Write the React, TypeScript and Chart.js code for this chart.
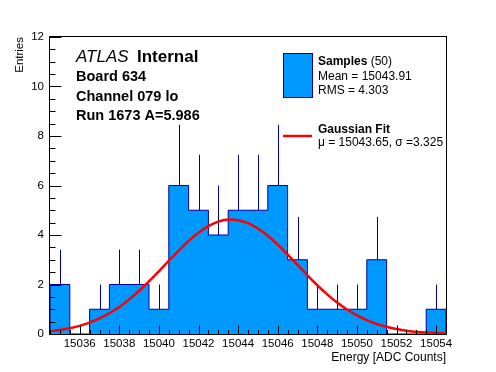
import React, { useEffect, useRef } from "react";
import { Chart, registerables } from "chart.js";

Chart.register(...registerables);

// ---- data ----
const binCenters = [15035, 15036, 15037, 15038, 15039, 15040, 15041, 15042, 15043, 15044, 15045, 15046, 15047, 15048, 15049, 15050, 15051, 15052, 15053, 15054];
const binCounts = [2, 0, 1, 2, 2, 1, 6, 5, 4, 5, 5, 6, 3, 1, 1, 1, 3, 0, 0, 1];
const binErrors = [1.41, 0, 1, 1.41, 1.41, 1, 2.45, 2.24, 2, 2.24, 2.24, 2.45, 1.73, 1, 1, 1, 1.73, 0, 0, 1];
const binWidth = 1;

const fitX = [15034.5, 15035, 15035.5, 15036, 15036.5, 15037, 15037.5, 15038, 15038.5, 15039, 15039.5, 15040, 15040.5, 15041, 15041.5, 15042, 15042.5, 15043, 15043.5, 15044, 15044.5, 15045, 15045.5, 15046, 15046.5, 15047, 15047.5, 15048, 15048.5, 15049, 15049.5, 15050, 15050.5, 15051, 15051.5, 15052, 15052.5, 15053, 15053.5, 15054, 15054.5];
const fitY = [0.11, 0.16, 0.23, 0.33, 0.46, 0.63, 0.84, 1.09, 1.4, 1.74, 2.13, 2.53, 2.96, 3.37, 3.76, 4.09, 4.36, 4.54, 4.63, 4.6, 4.48, 4.26, 3.97, 3.61, 3.21, 2.79, 2.37, 1.97, 1.6, 1.27, 0.99, 0.75, 0.56, 0.4, 0.29, 0.2, 0.13, 0.09, 0.06, 0.04, 0.02];

const xTickValues = [15036, 15038, 15040, 15042, 15044, 15046, 15048, 15050, 15052, 15054];
const yTickValues = [0, 2, 4, 6, 8, 10, 12];
const xRange = [15034.5, 15054.5];
const yRange = [0, 12];
const xMinorStep = 0.5;
const yMinorStep = 0.5;

const xTitle = "Energy [ADC Counts]";
const yTitle = "Entries";
const atlasText = "ATLAS";
const internalText = "Internal";
const infoLines = ["Board 634", "Channel 079 lo", "Run 1673 A=5.986"];
const legendSamples = "Samples";
const legendSamplesCount = " (50)";
const legendSampleStats = ["Mean = 15043.91", "RMS = 4.303"];
const legendFit = "Gaussian Fit";
const legendFitStats = "\u03bc = 15043.65, \u03c3 =3.325";

const FONT = '"Liberation Sans", Arial, Helvetica, sans-serif';
const FILL = "#0099ff";
const LINE = "#000099";
const RED = "#ff0000";

export default function App() {
  const ref = useRef<HTMLCanvasElement>(null);

  useEffect(() => {
    const canvas = ref.current!;
    const histPoints: { x: number; y: number }[] = [];
    histPoints.push({ x: binCenters[0] - binWidth / 2, y: 0 });
    binCenters.forEach((c, i) => histPoints.push({ x: c - binWidth / 2, y: binCounts[i] }));
    const last = binCenters.length - 1;
    histPoints.push({ x: binCenters[last] + binWidth / 2, y: binCounts[last] });
    histPoints.push({ x: binCenters[last] + binWidth / 2, y: 0 });

    const fitPoints = fitX.map((x, i) => ({ x, y: fitY[i] }));

    const decor = {
      id: "decor",
      beforeDraw(chart: any) {
        const ctx = chart.ctx;
        ctx.save();
        ctx.fillStyle = "#fff";
        ctx.fillRect(0, 0, chart.width, chart.height);
        ctx.restore();
      },
      afterDatasetDraw(chart: any, args: any) {
        if (args.index !== 0) return;
        const ctx = chart.ctx;
        const xs = chart.scales.x;
        const ys = chart.scales.y;
        ctx.save();
        ctx.strokeStyle = LINE;
        ctx.lineWidth = 1;
        binCenters.forEach((c, i) => {
          if (binErrors[i] <= 0) return;
          const x = Math.round(xs.getPixelForValue(c)) + 0.5;
          const y1 = ys.getPixelForValue(binCounts[i]);
          const y2 = ys.getPixelForValue(binCounts[i] + binErrors[i]);
          ctx.beginPath();
          ctx.moveTo(x, y1);
          ctx.lineTo(x, y2);
          ctx.stroke();
        });
        ctx.restore();
      },
      afterDraw(chart: any) {
        const ctx = chart.ctx;
        const a = chart.chartArea;
        const xs = chart.scales.x;
        const ys = chart.scales.y;
        const L = Math.round(a.left) - 0.5;
        const R = Math.round(a.right) + 0.5;
        const T = Math.round(a.top) - 0.5;
        const B = Math.round(a.bottom) + 0.5;
        ctx.save();
        ctx.strokeStyle = "#000";
        ctx.lineWidth = 1;
        ctx.strokeRect(L, T, R - L, B - T);
        // ticks
        ctx.beginPath();
        for (let v = xRange[0]; v <= xRange[1] + 1e-9; v += xMinorStep) {
          const major = xTickValues.includes(v);
          const x = Math.round(xs.getPixelForValue(v)) + 0.5;
          ctx.moveTo(x, B);
          ctx.lineTo(x, B - (major ? 9 : 4.5));
        }
        for (let v = yRange[0]; v <= yRange[1] + 1e-9; v += yMinorStep) {
          const major = yTickValues.includes(v);
          const y = Math.round(ys.getPixelForValue(v)) + 0.5;
          ctx.moveTo(L, y);
          ctx.lineTo(L + (major ? 12 : 6), y);
        }
        ctx.stroke();

        ctx.fillStyle = "#000";
        ctx.textBaseline = "alphabetic";
        // axis titles
        ctx.font = `12px ${FONT}`;
        ctx.textAlign = "right";
        ctx.fillText(xTitle, R - 0.5, 360.5);
        ctx.save();
        ctx.translate(23, T + 0.5);
        ctx.rotate(-Math.PI / 2);
        ctx.font = `11.5px ${FONT}`;
        ctx.textAlign = "right";
        ctx.fillText(yTitle, 0, 0);
        ctx.restore();

        // ATLAS label
        ctx.textAlign = "left";
        ctx.font = `italic 17px ${FONT}`;
        ctx.fillText(atlasText, 76, 62);
        ctx.font = `bold 17px ${FONT}`;
        ctx.fillText(internalText, 137, 62);
        ctx.font = `bold 14.5px ${FONT}`;
        const infoY = [81, 100.5, 120];
        infoLines.forEach((t, i) => ctx.fillText(t, 76, infoY[i]));

        // legend
        ctx.fillStyle = FILL;
        ctx.fillRect(283, 53, 29, 44);
        ctx.strokeStyle = LINE;
        ctx.strokeRect(283.5, 53.5, 29, 44);
        ctx.fillStyle = "#000";
        ctx.font = `bold 12px ${FONT}`;
        ctx.fillText(legendSamples, 318, 65);
        const w = ctx.measureText(legendSamples).width;
        ctx.font = `12px ${FONT}`;
        ctx.fillText(legendSamplesCount, 318 + w, 65);
        ctx.fillText(legendSampleStats[0], 318, 80);
        ctx.fillText(legendSampleStats[1], 318, 93.5);
        ctx.strokeStyle = RED;
        ctx.lineWidth = 2.5;
        ctx.beginPath();
        ctx.moveTo(283, 136);
        ctx.lineTo(312, 136);
        ctx.stroke();
        ctx.font = `bold 12px ${FONT}`;
        ctx.fillText(legendFit, 318, 133);
        ctx.font = `12px ${FONT}`;
        ctx.fillText(legendFitStats, 318, 146);
        ctx.restore();
      },
    };

    const chart = new Chart(canvas, {
      type: "line",
      data: {
        datasets: [
          {
            data: histPoints,
            stepped: "before",
            borderColor: LINE,
            borderWidth: 1,
            backgroundColor: FILL,
            fill: "origin",
            pointRadius: 0,
            order: 2,
          } as any,
          {
            data: fitPoints,
            borderColor: RED,
            borderWidth: 2.5,
            pointRadius: 0,
            fill: false,
            cubicInterpolationMode: "monotone",
            order: 1,
          } as any,
        ],
      },
      options: {
        responsive: false,
        animation: false,
        events: [],
        layout: { padding: { left: 0, right: 50, top: 37, bottom: 0 } },
        plugins: { legend: { display: false }, tooltip: { enabled: false }, title: { display: false } },
        scales: {
          x: {
            type: "linear",
            min: xRange[0],
            max: xRange[1],
            afterBuildTicks: (s: any) => {
              s.ticks = xTickValues.map((v) => ({ value: v }));
            },
            afterFit: (s: any) => {
              s.height = 38;
            },
            grid: { display: false, drawTicks: false },
            border: { display: false },
            ticks: {
              autoSkip: false,
              maxRotation: 0,
              padding: 3,
              color: "#000",
              font: { family: FONT, size: 11.5 },
              callback: (v: any) => String(v),
            },
          },
          y: {
            type: "linear",
            min: yRange[0],
            max: yRange[1],
            afterBuildTicks: (s: any) => {
              s.ticks = yTickValues.map((v) => ({ value: v }));
            },
            afterFit: (s: any) => {
              s.width = 50;
            },
            grid: { display: false, drawTicks: false },
            border: { display: false },
            ticks: {
              autoSkip: false,
              padding: 6,
              color: "#000",
              font: { family: FONT, size: 11.5 },
              callback: (v: any) => String(v),
            },
          },
        },
      },
      plugins: [decor],
    });
    return () => chart.destroy();
  }, []);

  return (
    <div style={{ position: "absolute", left: 0, top: 0, width: 496, height: 372, background: "#fff" }}>
      <canvas ref={ref} width={496} height={372} style={{ display: "block", width: 496, height: 372 }} />
    </div>
  );
}
